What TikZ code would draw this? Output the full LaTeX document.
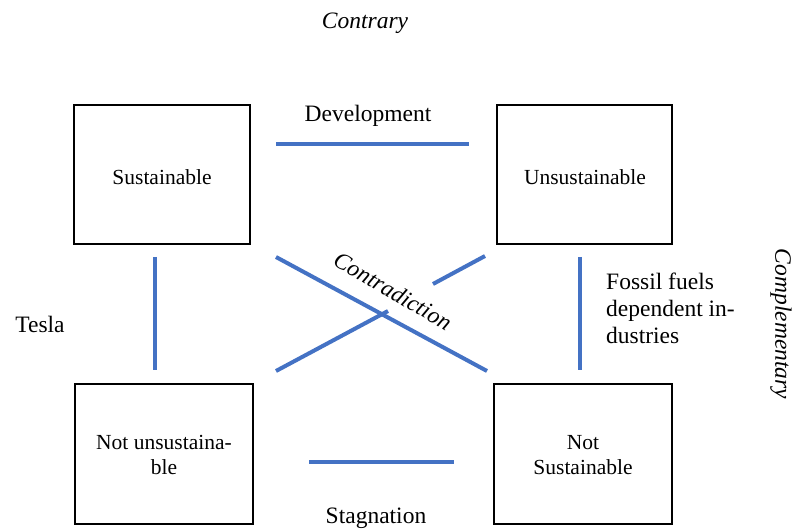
\documentclass[tikz,border=0pt]{standalone}
\usepackage{fontspec}
\setmainfont{Liberation Serif}
\begin{document}
\begin{tikzpicture}[x=1pt,y=-1pt,
  boxtxt/.style={font=\fontsize{21.5}{25}\selectfont,align=center},
  lbl/.style={font=\fontsize{23.5}{27}\selectfont,inner sep=0pt},
  ital/.style={font=\fontsize{23.5}{27}\selectfont\itshape,inner sep=0pt},
  link/.style={draw=linkblue,line width=4pt}]
\definecolor{linkblue}{HTML}{4472C4}
\useasboundingbox (0,0) rectangle (795,529);

% the four boxes of the square
\draw[line width=2.2pt] (74,105) rectangle (250,244);
\draw[line width=2.2pt] (497,105) rectangle (672,244);
\draw[line width=2.2pt] (75,384) rectangle (253,524);
\draw[line width=2.2pt] (494,384) rectangle (672,524);
\node[boxtxt] (s)  at (162,177) {Sustainable};
\node[boxtxt] (u)  at (585,177) {Unsustainable};
\node[boxtxt] (nu) at (164,455) {Not unsustaina-\\ble};
\node[boxtxt] (ns) at (583,455) {Not\\Sustainable};

% end points of the relations
\coordinate (devA) at (276,144);  \coordinate (devB) at (469,144);
\coordinate (stgA) at (309,462);  \coordinate (stgB) at (454,462);
\coordinate (lvA) at (155,257);   \coordinate (lvB) at (155,370);
\coordinate (rvA) at (580,257);   \coordinate (rvB) at (580,370);
\coordinate (d1A) at (276,257);   \coordinate (d1B) at (487,371);
\coordinate (d2A) at (276,371);   \coordinate (d2B) at (388,311);
\coordinate (d2C) at (433,284);   \coordinate (d2D) at (485,256);

\draw[link] (devA) -- (devB);
\draw[link] (stgA) -- (stgB);
\draw[link] (lvA) -- (lvB);
\draw[link] (rvA) -- (rvB);
\draw[link] (d1A) -- (d1B);
\draw[link] (d2A) -- (d2B);
\draw[link] (d2C) -- (d2D);

% labels
\node[ital] (contrary) at (365,23) {Contrary};
\node[lbl] (dev) at (368,116) {Development};
\node[lbl] (stg) at (376,518) {Stagnation};
\node[lbl] (tesla) at (40,324) {Tesla};
\node[lbl,anchor=north west,align=left] (fossil) at (606,273)
  {Fossil fuels\\dependent in-\\dustries};
\node[ital,rotate=-30] (contra) at (393,291) {Contradiction};
\node[ital,rotate=-90] (compl) at (781,324) {Complementary};
\end{tikzpicture}
\end{document}
